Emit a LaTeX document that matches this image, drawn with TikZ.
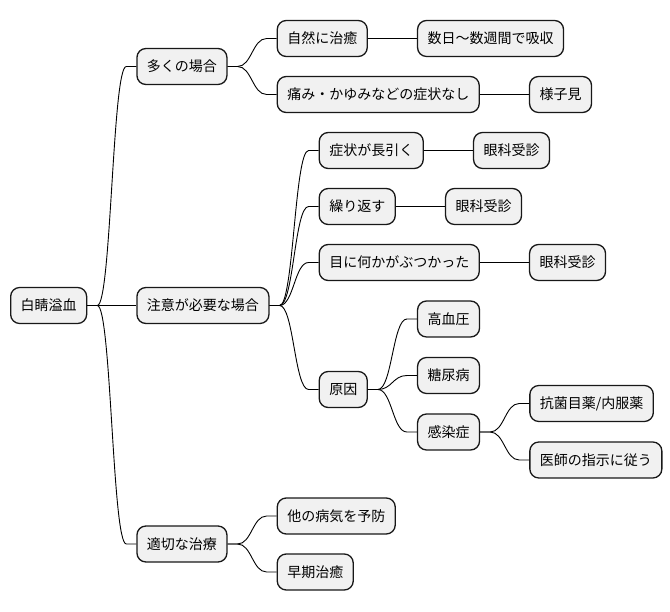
\documentclass[tikz,border=0pt]{standalone}
\usepackage{fontspec}
\setmainfont{Noto Sans CJK JP}
\usepackage{tikz}
\usetikzlibrary{positioning}
\definecolor{boxfill}{HTML}{F1F1F1}
\definecolor{boxline}{HTML}{181818}
\newcommand{\mmlink}[2]{%
  \draw[link] (#1.east) -- ++(10,0) .. controls +(14,0) and +(-14,0)
    .. ([xshift=-10pt]#2.west) -- (#2.west);}

\begin{document}
\begin{tikzpicture}[x=1pt,y=-1pt,
  font=\fontsize{14pt}{16pt}\selectfont,
  mm/.style={draw=boxline,fill=boxfill,line width=1.3pt,rounded corners=9pt,
             minimum height=36pt,inner xsep=10pt,inner ysep=4pt},
  link/.style={draw=black,line width=0.9pt},
  node distance=49pt,
]
\useasboundingbox (0,0) rectangle (670,612);
% root
\node[mm,anchor=west] (root) at (10,305.5) {白睛溢血};

% first branch
\node[mm,right=of root,yshift=239pt] (many) {多くの場合};
\node[mm,right=of many,yshift=28pt] (heal) {自然に治癒};
\node[mm,right=of heal] (absorb) {数日〜数週間で吸収};
\node[mm,right=of many,yshift=-28pt] (nosym) {痛み・かゆみなどの症状なし};
\node[mm,right=of nosym] (watch) {様子見};

% second branch
\node[mm,right=of root] (care) {注意が必要な場合};
\node[mm,right=of care,yshift=155pt] (long) {症状が長引く};
\node[mm,right=of long] (eye1) {眼科受診};
\node[mm,right=of care,yshift=99pt] (again) {繰り返す};
\node[mm,right=of again] (eye2) {眼科受診};
\node[mm,right=of care,yshift=43pt] (hit) {目に何かがぶつかった};
\node[mm,right=of hit] (eye3) {眼科受診};
\node[mm,right=of care,yshift=-84pt] (cause) {原因};
\node[mm,right=of cause,yshift=70.5pt] (bp) {高血圧};
\node[mm,right=of cause,yshift=14pt] (dm) {糖尿病};
\node[mm,right=of cause,yshift=-42.5pt] (infect) {感染症};
\node[mm,right=of infect,yshift=28.5pt] (drug) {抗菌目薬/内服薬};
\node[mm,right=of infect,yshift=-28pt] (doctor) {医師の指示に従う};

% third branch
\node[mm,right=of root,yshift=-238.5pt] (treat) {適切な治療};
\node[mm,right=of treat,yshift=28pt] (prevent) {他の病気を予防};
\node[mm,right=of treat,yshift=-28pt] (early) {早期治癒};

% connectors
\mmlink{root}{many}
\mmlink{root}{care}
\mmlink{root}{treat}
\mmlink{many}{heal}
\mmlink{many}{nosym}
\mmlink{heal}{absorb}
\mmlink{nosym}{watch}
\mmlink{care}{long}
\mmlink{care}{again}
\mmlink{care}{hit}
\mmlink{care}{cause}
\mmlink{long}{eye1}
\mmlink{again}{eye2}
\mmlink{hit}{eye3}
\mmlink{cause}{bp}
\mmlink{cause}{dm}
\mmlink{cause}{infect}
\mmlink{infect}{drug}
\mmlink{infect}{doctor}
\mmlink{treat}{prevent}
\mmlink{treat}{early}
\end{tikzpicture}
\end{document}
